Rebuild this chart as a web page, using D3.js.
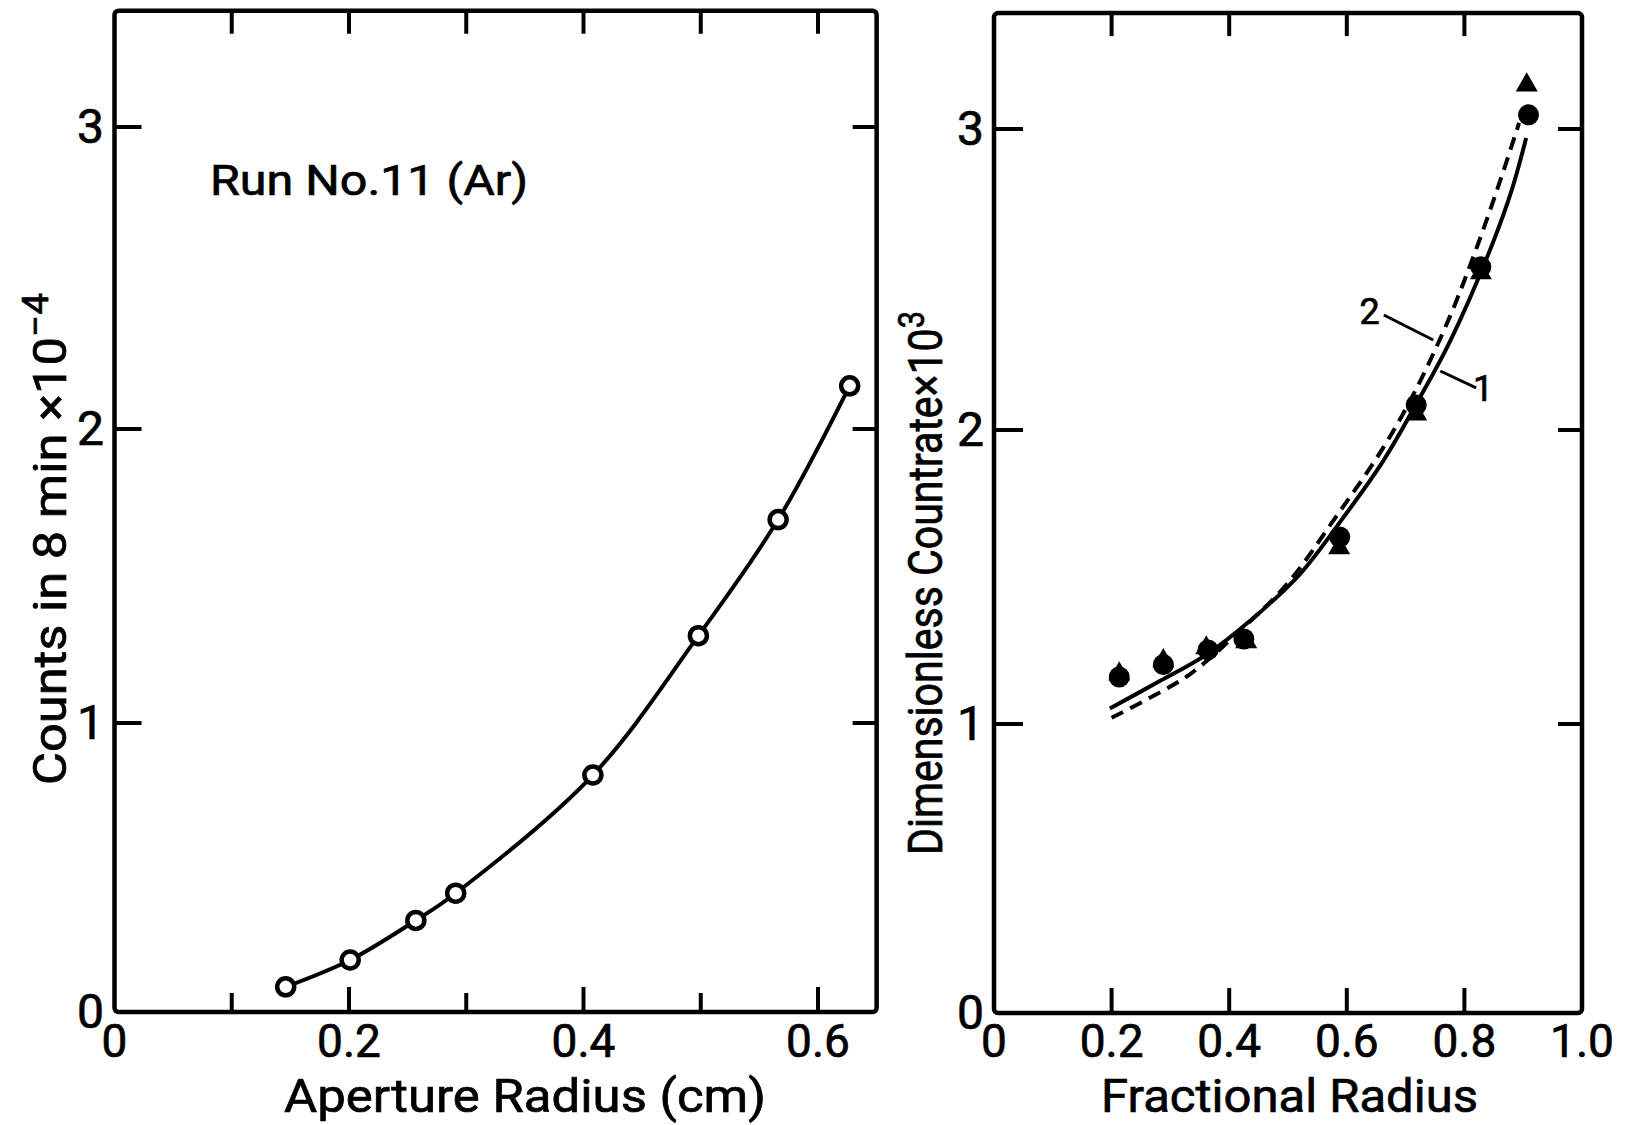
<!DOCTYPE html>
<html>
<head>
<meta charset="utf-8">
<title>Counts vs aperture radius / dimensionless countrate</title>
<style>
  body { margin: 0; background: #fff; }
  svg { display: block; }
  text { font-family: Roboto, "DejaVu Sans", sans-serif; fill: #000; stroke: #000; stroke-width: 0.7; }
</style>
</head>
<body>
<script src="https://cdn.jsdelivr.net/npm/d3@7/dist/d3.min.js"></script>
<script>
// ---- left panel: Run No.11 (Ar) ----
var apertureRadius = [0.146, 0.201, 0.257, 0.291, 0.408, 0.498, 0.566, 0.627];
var counts8min = [0.087, 0.18, 0.317, 0.411, 0.82, 1.297, 1.692, 2.143]; // x 10^4

// ---- right panel: measured points ----
var fracRadiusDots = [0.213, 0.288, 0.364, 0.425, 0.588, 0.718, 0.828, 0.909];
var countrateDots = [1.16, 1.202, 1.252, 1.289, 1.636, 2.083, 2.542, 3.047];
var fracRadiusTri = [0.213, 0.288, 0.361, 0.429, 0.587, 0.718, 0.828, 0.906];
var countrateTri = [1.17, 1.215, 1.259, 1.279, 1.599, 2.053, 2.522, 3.146];

// curve 1 (solid) and curve 2 (dashed)
var curve1X = [0.197, 0.282, 0.362, 0.435, 0.52, 0.594, 0.662, 0.724, 0.776, 0.848, 0.881, 0.905];
var curve1Y = [1.053, 1.146, 1.237, 1.35, 1.509, 1.702, 1.895, 2.107, 2.296, 2.62, 2.8, 2.97];
var curve2X = [0.2, 0.265, 0.333, 0.42, 0.5, 0.58, 0.662, 0.719, 0.776, 0.816, 0.856, 0.893];
var curve2Y = [1.021, 1.089, 1.169, 1.32, 1.48, 1.70, 1.94, 2.14, 2.38, 2.58, 2.80, 3.02];

// curve labels: text position and leader line ends, in data units
var curveLabels = ["2", "1"];
var curveLabelX = [0.639, 0.832];
var curveLabelY = [2.352, 2.096];
var leaderFrom = [[0.663, 2.382], [0.759, 2.196]];
var leaderTo = [[0.747, 2.299], [0.820, 2.140]];

// ticks
var yTicks = [1, 2, 3];
var yLabels = [0, 1, 2, 3];
var leftXTicks = [0.1, 0.2, 0.3, 0.4, 0.5, 0.6];
var leftXLabels = [0, 0.2, 0.4, 0.6];
var rightXTicks = [0.2, 0.4, 0.6, 0.8];
var rightXLabels = [0, 0.2, 0.4, 0.6, 0.8, 1.0];

var width = 1625, height = 1125;
var yTop = 3.385, leftXMax = 0.65;
var fmt = function(d) { return d === 0 ? "0" : d3.format(".1f")(d); };

var svg = d3.select("body").append("svg")
    .attr("width", width)
    .attr("height", height);

// the scanned y axis is a little uneven, so map each tick
var yL = d3.scaleLinear().domain([0, 1, 2, 3]).range([1012, 723, 429, 127]);
var yR = d3.scaleLinear().domain([0, 1, 2, 3]).range([1013, 724, 430, 129]);
var xL = d3.scaleLinear().domain([0, 0.6]).range([114.5, 818]);
var xR = d3.scaleLinear().domain([0, 1]).range([994, 1582]);

function frame(x, y, x0, x1) {
  svg.append("rect")
    .attr("x", x(x0)).attr("y", y(yTop))
    .attr("width", x(x1) - x(x0))
    .attr("height", y(0) - y(yTop))
    .attr("rx", 4)
    .attr("fill", "none")
    .attr("stroke", "#000")
    .attr("stroke-width", 4.5);
}

function ticks(x, y, x0, x1, xt, yt, lenIn) {
  var g = svg.append("g").attr("stroke", "#000").attr("stroke-width", 4);
  g.selectAll(".yl").data(yt).enter().append("line")
    .attr("x1", x(x0)).attr("x2", x(x0) + lenIn)
    .attr("y1", d => y(d)).attr("y2", d => y(d));
  g.selectAll(".yr").data(yt).enter().append("line")
    .attr("x1", x(x1)).attr("x2", x(x1) - 24)
    .attr("y1", d => y(d)).attr("y2", d => y(d));
  g.selectAll(".xt").data(xt).enter().append("line")
    .attr("x1", d => x(d)).attr("x2", d => x(d))
    .attr("y1", y(yTop)).attr("y2", y(yTop) + 23);
  g.selectAll(".xb").data(xt).enter().append("line")
    .attr("x1", d => x(d)).attr("x2", d => x(d))
    .attr("y1", y(0)).attr("y2", d => y(0) - (Math.round(d * 10) % 2 === 0 ? 25 : 19));
}

function labels(x, y, xl, yl, yLabelX) {
  svg.selectAll(null).data(xl).enter().append("text")
    .attr("x", d => x(d)).attr("y", 1057)
    .attr("text-anchor", "middle")
    .attr("font-size", 46)
    .text(fmt);
  svg.selectAll(null).data(yl).enter().append("text")
    .attr("x", yLabelX).attr("y", d => y(d))
    .attr("dy", "0.33em")
    .attr("text-anchor", "end")
    .attr("font-size", 48)
    .text(d => d);
}

// ---------------- left panel ----------------
frame(xL, yL, 0, leftXMax);
ticks(xL, yL, 0, leftXMax, leftXTicks, yTicks, 27);
labels(xL, yL, leftXLabels, yLabels, 104);

var leftPts = apertureRadius.map((r, i) => [r, counts8min[i]]);
svg.append("path")
  .datum(leftPts)
  .attr("d", d3.line().x(d => xL(d[0])).y(d => yL(d[1])).curve(d3.curveCatmullRom.alpha(0.5)))
  .attr("fill", "none")
  .attr("stroke", "#000")
  .attr("stroke-width", 4);

svg.selectAll(".open").data(leftPts).enter().append("circle")
  .attr("cx", d => xL(d[0]))
  .attr("cy", d => yL(d[1]))
  .attr("r", 8.5)
  .attr("fill", "#fff")
  .attr("stroke", "#000")
  .attr("stroke-width", 4.5);

svg.append("text")
  .attr("x", 210).attr("y", 195)
  .attr("font-size", 42)
  .attr("textLength", 318)
  .attr("lengthAdjust", "spacingAndGlyphs")
  .text("Run No.11 (Ar)");

svg.append("text")
  .attr("x", 284).attr("y", 1112)
  .attr("font-size", 46)
  .attr("textLength", 482)
  .attr("lengthAdjust", "spacingAndGlyphs")
  .text("Aperture Radius (cm)");

var tl = svg.append("text")
  .attr("transform", "translate(66,785) rotate(-90)")
  .attr("font-size", 47)
  .attr("textLength", 492)
  .attr("lengthAdjust", "spacingAndGlyphs");
tl.append("tspan").text("Counts in 8 min \u00d710");
tl.append("tspan").attr("dy", -18).attr("font-size", 36).text("\u22124");

// ---------------- right panel ----------------
frame(xR, yR, 0, 1);
ticks(xR, yR, 0, 1, rightXTicks, yTicks, 29);
labels(xR, yR, rightXLabels, yLabels, 984);

var line = d3.line().x(d => xR(d[0])).y(d => yR(d[1])).curve(d3.curveCatmullRom.alpha(0.5));

svg.append("path")
  .datum(curve1X.map((v, i) => [v, curve1Y[i]]))
  .attr("d", line)
  .attr("fill", "none")
  .attr("stroke", "#000")
  .attr("stroke-width", 4);

svg.append("path")
  .datum(curve2X.map((v, i) => [v, curve2Y[i]]))
  .attr("d", line)
  .attr("fill", "none")
  .attr("stroke", "#000")
  .attr("stroke-width", 4)
  .attr("stroke-dasharray", "13,8");

svg.selectAll(".dot").data(fracRadiusDots).enter().append("circle")
  .attr("cx", d => xR(d))
  .attr("cy", (d, i) => yR(countrateDots[i]))
  .attr("r", 10.5)
  .attr("fill", "#000");

svg.selectAll(".tri").data(fracRadiusTri).enter().append("path")
  .attr("transform", (d, i) => "translate(" + xR(d) + "," + yR(countrateTri[i]) + ")")
  .attr("d", d3.symbol().type(d3.symbolTriangle).size(210))
  .attr("fill", "#000");

svg.selectAll(".lead").data(leaderFrom).enter().append("line")
  .attr("x1", d => xR(d[0])).attr("y1", d => yR(d[1]))
  .attr("x2", (d, i) => xR(leaderTo[i][0])).attr("y2", (d, i) => yR(leaderTo[i][1]))
  .attr("stroke", "#000")
  .attr("stroke-width", 3);

svg.selectAll(".clab").data(curveLabels).enter().append("text")
  .attr("x", (d, i) => xR(curveLabelX[i]))
  .attr("y", (d, i) => yR(curveLabelY[i]))
  .attr("text-anchor", "middle")
  .attr("font-size", 36)
  .text(d => d);

svg.append("text")
  .attr("x", 1101).attr("y", 1112)
  .attr("font-size", 46)
  .attr("textLength", 377)
  .attr("lengthAdjust", "spacingAndGlyphs")
  .text("Fractional Radius");

var tr = svg.append("text")
  .attr("transform", "translate(942,855) rotate(-90)")
  .attr("font-size", 48)
  .attr("textLength", 544)
  .attr("lengthAdjust", "spacingAndGlyphs");
tr.append("tspan").text("Dimensionless  Countrate\u00d710");
tr.append("tspan").attr("dy", -18).attr("font-size", 36).text("3");
</script>
</body>
</html>
